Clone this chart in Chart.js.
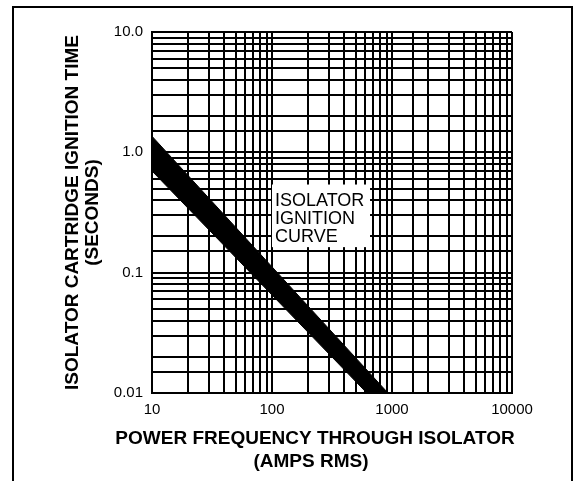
<!DOCTYPE html>
<html>
<head>
<meta charset="utf-8">
<script src="https://cdn.jsdelivr.net/npm/chart.js@4"></script>
<style>
  html, body { margin: 0; padding: 0; background: #fff; }
  #wrap { position: relative; width: 575px; height: 481px; overflow: hidden; }
  #frame {
    position: absolute; left: 12px; top: 6px; width: 557px; height: 520px;
    border-left: 2px solid #000; border-top: 2px solid #000; border-right: 2px solid #000;
  }
  canvas { position: absolute; left: 0; top: 0; }
</style>
</head>
<body>
<div id="wrap">
  <div id="frame"></div>
  <canvas id="chart" width="575" height="481"></canvas>
</div>
<script>
// grid lines of the log-log paper
const X_GRID = [10, 20, 30, 40, 50, 60, 70, 80, 90,
  100, 200, 300, 400, 500, 600, 700, 800, 900,
  1000, 1500, 2000, 3000, 4000, 5000, 6000, 7000, 8000, 9000, 10000];
const Y_GRID = [0.01, 0.015, 0.02, 0.03, 0.04, 0.05, 0.06, 0.07, 0.08, 0.09,
  0.1, 0.15, 0.2, 0.3, 0.4, 0.5, 0.6, 0.7, 0.8, 0.9,
  1, 1.5, 2, 3, 4, 5, 6, 7, 8, 9, 10];

const X_MAJOR = [10, 100, 1000, 10000];
const X_MAJOR_TEXT = ["10", "100", "1000", "10000"];
const Y_MAJOR = [0.01, 0.1, 1, 10];
const Y_MAJOR_TEXT = ["0.01", "0.1", "1.0", "10.0"];

// edges of the ignition band (amps, seconds)
const BAND_UPPER = [{ x: 10, y: 1.36 }, { x: 926, y: 0.01 }];
const BAND_LOWER = [{ x: 10, y: 0.7 }, { x: 617, y: 0.01 }, { x: 926, y: 0.01 }];

const LABEL_LINES = ["ISOLATOR", "IGNITION", "CURVE"];
const X_TITLE = ["POWER FREQUENCY THROUGH ISOLATOR", "(AMPS RMS)"];
const Y_TITLE = ["ISOLATOR CARTRIDGE IGNITION TIME", "(SECONDS)"];

const tickFont = { family: '"Liberation Sans", Arial, sans-serif', size: 15 };
const titleFont = 'bold 19px "Liberation Sans", Arial, sans-serif';

// curve label box + x title (the title is wider than the plot, so it is drawn by hand)
const extras = {
  id: "extras",
  afterDraw(chart) {
    const { ctx, chartArea, scales: { x, y } } = chart;
    const left = x.getPixelForValue(100);
    const right = x.getPixelForValue(656);
    const top = y.getPixelForValue(0.54);
    const bottom = y.getPixelForValue(0.163);
    ctx.save();
    ctx.fillStyle = "#fff";
    ctx.fillRect(left, top, right - left, bottom - top);
    ctx.fillStyle = "#000";
    ctx.font = '18px "Liberation Sans", Arial, sans-serif';
    ctx.textBaseline = "middle";
    LABEL_LINES.forEach((line, i) => {
      ctx.fillText(line, left + 3, top + 16 + i * 18);
    });

    ctx.font = titleFont;
    ctx.textAlign = "center";
    const cx = (chartArea.left + chartArea.right) / 2 - 17;
    X_TITLE.forEach((line, i) => {
      ctx.fillText(line, cx - i * 4, chartArea.bottom + 46 + i * 23);
    });
    ctx.restore();
  }
};

new Chart(document.getElementById("chart"), {
  type: "scatter",
  data: {
    datasets: [
      {
        data: BAND_UPPER,
        showLine: true,
        borderColor: "#000",
        borderWidth: 1,
        pointRadius: 0,
        tension: 0,
        fill: false
      },
      {
        data: BAND_LOWER,
        showLine: true,
        borderColor: "#000",
        borderWidth: 1,
        backgroundColor: "#000",
        pointRadius: 0,
        tension: 0,
        fill: "-1"
      }
    ]
  },
  options: {
    responsive: false,
    animation: false,
    layout: { padding: { left: 0, top: 32, right: 63, bottom: 0 } },
    plugins: { legend: { display: false }, tooltip: { enabled: false } },
    scales: {
      x: {
        type: "logarithmic",
        min: 10,
        max: 10000,
        afterBuildTicks: (s) => { s.ticks = X_GRID.map((v) => ({ value: v })); },
        afterFit: (s) => { s.height = 88; },
        ticks: {
          autoSkip: false,
          maxRotation: 0,
          padding: 8,
          color: "#000",
          font: tickFont,
          callback: (v) => {
            const i = X_MAJOR.indexOf(v);
            return i >= 0 ? X_MAJOR_TEXT[i] : "";
          }
        },
        grid: { color: "#000", lineWidth: 2, drawTicks: false },
        border: { color: "#000", width: 2 },
        title: { display: false }
      },
      y: {
        type: "logarithmic",
        min: 0.01,
        max: 10,
        afterBuildTicks: (s) => { s.ticks = Y_GRID.map((v) => ({ value: v })); },
        afterFit: (s) => { s.width = 152; },
        ticks: {
          autoSkip: false,
          padding: 9,
          color: "#000",
          font: tickFont,
          callback: (v) => {
            const i = Y_MAJOR.indexOf(v);
            return i >= 0 ? Y_MAJOR_TEXT[i] : "";
          }
        },
        grid: { color: "#000", lineWidth: 2, drawTicks: false },
        border: { color: "#000", width: 2 },
        title: {
          display: true,
          text: Y_TITLE,
          color: "#000",
          font: { family: '"Liberation Sans", Arial, sans-serif', size: 19, weight: "bold", lineHeight: 1.05 },
          padding: { top: 63, bottom: 0 }
        }
      }
    }
  },
  plugins: [extras]
});
</script>
</body>
</html>
